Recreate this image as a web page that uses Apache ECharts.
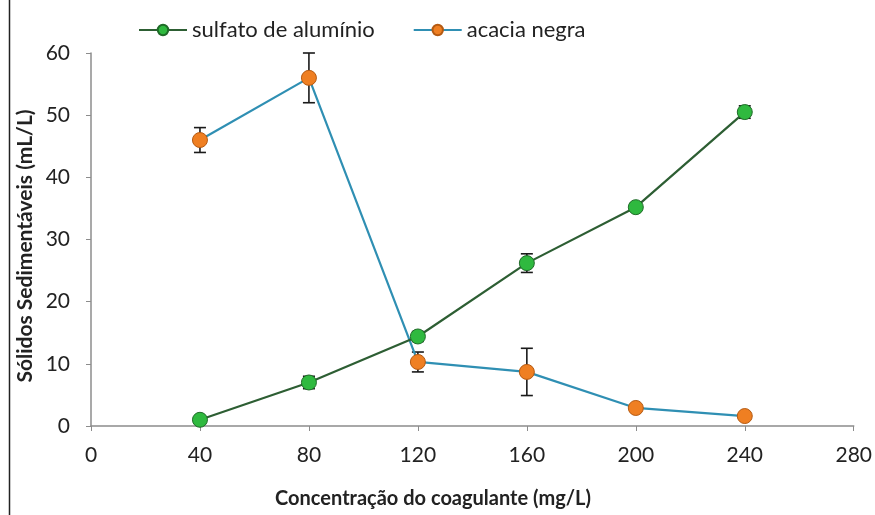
<!DOCTYPE html>
<html>
<head>
<meta charset="utf-8">
<script src="https://cdn.jsdelivr.net/npm/echarts@6/dist/echarts.min.js"></script>
<style>
  html, body { margin: 0; padding: 0; background: #ffffff; }
  #chart { width: 875px; height: 515px; }
</style>
</head>
<body>
<div id="chart"></div>
<script>
// Coagulant dose (mg/L)
const doses = [40, 80, 120, 160, 200, 240];
// Settleable solids (mL/L) and standard deviations
const sulfatoValues = [1.0, 7.0, 14.4, 26.2, 35.2, 50.5];
const sulfatoErrors = [0.5, 1.0, 0.8, 1.5, 0.6, 1.0];
const acaciaValues = [46.0, 56.0, 10.3, 8.7, 2.9, 1.6];
const acaciaErrors = [2.0, 4.0, 1.6, 3.8, 0.4, 0.3];
const xTicks = [0, 40, 80, 120, 160, 200, 240, 280];
const yTicks = [0, 10, 20, 30, 40, 50, 60];

const FONT = 'Lato';

function pairs(xs, ys) { return xs.map((x, i) => [x, ys[i]]); }
function errData(xs, ys, es) { return xs.map((x, i) => [x, ys[i] - es[i], ys[i] + es[i]]); }

function renderErr(params, api) {
  const x = api.value(0);
  const lo = api.coord([x, api.value(1)]);
  const hi = api.coord([x, api.value(2)]);
  const cap = 6;
  const style = { stroke: '#1a1a1a', lineWidth: 1.6 };
  return {
    type: 'group',
    children: [
      { type: 'line', shape: { x1: lo[0], y1: lo[1], x2: hi[0], y2: hi[1] }, style },
      { type: 'line', shape: { x1: lo[0] - cap, y1: lo[1], x2: lo[0] + cap, y2: lo[1] }, style },
      { type: 'line', shape: { x1: hi[0] - cap, y1: hi[1], x2: hi[0] + cap, y2: hi[1] }, style }
    ]
  };
}

const chart = echarts.init(document.getElementById('chart'), null, { renderer: 'canvas' });

chart.setOption({
  backgroundColor: '#ffffff',
  animation: false,
  textStyle: { fontFamily: FONT },
  legend: {
    top: 14,
    left: 133,
    itemWidth: 48,
    itemHeight: 13,
    itemGap: 38,
    textStyle: { fontFamily: FONT, fontSize: 22, color: '#222' },
    data: ['sulfato de alumínio', 'acacia negra']
  },
  grid: { left: 91, right: 16, top: 53, bottom: 89, containLabel: false },
  xAxis: {
    type: 'value',
    min: 0, max: 280, interval: 40,
    axisLine: { show: true, lineStyle: { color: '#8c8c8c', width: 1.5 } },
    axisTick: { show: true, inside: false, length: 5, lineStyle: { color: '#8c8c8c' } },
    axisLabel: {
      fontFamily: FONT, fontSize: 21, color: '#222', margin: 19,
      formatter: v => (xTicks.indexOf(v) >= 0 ? String(v) : '')
    },
    splitLine: { show: false }
  },
  yAxis: {
    type: 'value',
    min: 0, max: 60, interval: 10,
    axisLine: { show: true, lineStyle: { color: '#8c8c8c', width: 1.5 } },
    axisTick: { show: true, inside: false, length: 5, lineStyle: { color: '#8c8c8c' } },
    axisLabel: {
      fontFamily: FONT, fontSize: 21, color: '#222', margin: 21,
      formatter: v => (yTicks.indexOf(v) >= 0 ? String(v) : '')
    },
    splitLine: { show: false }
  },
  graphic: [
    {
      type: 'line', z: 10,
      shape: { x1: 9.5, y1: 0, x2: 9.5, y2: 515 },
      style: { stroke: '#222', lineWidth: 1.5 }
    },
    {
      type: 'text', z: 10,
      x: 25, y: 246,
      rotation: Math.PI / 2,
      style: {
        text: 'Sólidos Sedimentáveis (mL/L)',
        fontFamily: FONT, fontSize: 21, fontWeight: 'bold', fill: '#222',
        align: 'center', verticalAlign: 'middle'
      }
    },
    {
      type: 'text', z: 10,
      x: 433, y: 499,
      style: {
        text: 'Concentração do coagulante (mg/L)',
        fontFamily: FONT, fontSize: 20, fontWeight: 'bold', fill: '#222',
        align: 'center', verticalAlign: 'middle'
      }
    }
  ],
  series: [
    {
      name: 'acacia negra',
      type: 'line',
      data: pairs(doses, acaciaValues),
      symbol: 'circle',
      symbolSize: 15,
      z: 3,
      lineStyle: { color: '#2f8fb3', width: 2.2 },
      itemStyle: { color: '#ef7f22', borderColor: '#b55a12', borderWidth: 1 }
    },
    {
      name: 'sulfato de alumínio',
      type: 'line',
      data: pairs(doses, sulfatoValues),
      symbol: 'circle',
      symbolSize: 15,
      z: 4,
      lineStyle: { color: '#2d5e33', width: 2.2 },
      itemStyle: { color: '#2fb93f', borderColor: '#1f6b28', borderWidth: 1 }
    },
    {
      name: 'erro acacia',
      type: 'custom',
      renderItem: renderErr,
      data: errData(doses, acaciaValues, acaciaErrors),
      z: 2,
      silent: true
    },
    {
      name: 'erro sulfato',
      type: 'custom',
      renderItem: renderErr,
      data: errData(doses, sulfatoValues, sulfatoErrors),
      z: 2,
      silent: true
    }
  ]
});
</script>
</body>
</html>
